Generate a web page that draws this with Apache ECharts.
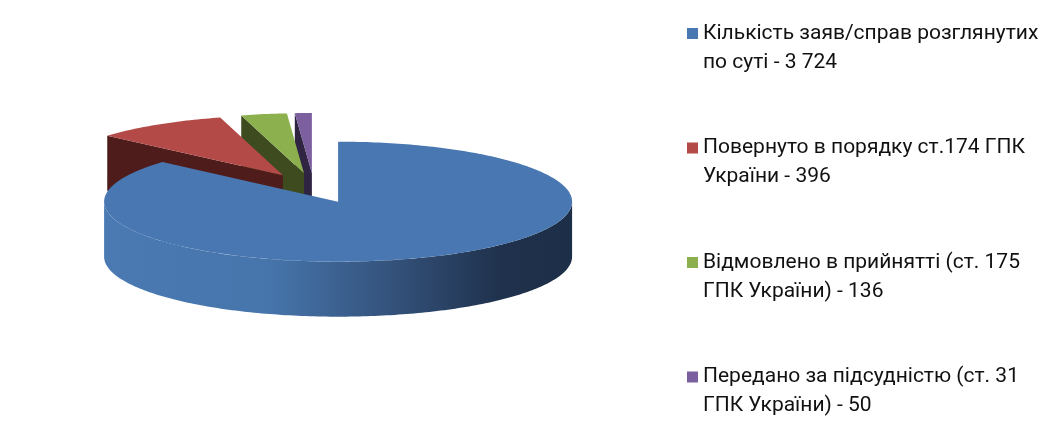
<!DOCTYPE html>
<html>
<head>
<meta charset="utf-8">
<script src="https://cdn.jsdelivr.net/npm/echarts@6/dist/echarts.min.js"></script>
<style>
html,body{margin:0;padding:0;background:#fff;}
#chart{width:1064px;height:434px;}
</style>
</head>
<body>
<div id="chart"></div>
<script>
// ---- data ----
const names = [
  'Кількість заяв/справ розглянутих\nпо суті - 3 724',
  'Повернуто в порядку ст.174 ГПК\nУкраїни - 396',
  'Відмовлено в прийнятті (ст. 175\nГПК України) - 136',
  'Передано за підсудністю (ст. 31\nГПК України) - 50'
];
const values = [3724, 396, 136, 50];

// ---- styles ----
const topColors = ['#4877b1', '#b34a47', '#8db04f', '#7b5f9f'];
const faceColors = ['#2c4a70', '#4e1c1b', '#3d4b1f', '#2f2442'];
const wallStops = [
  [['0', '#4b7ab3'], ['0.35', '#4675ac'], ['0.6', '#35547e'], ['0.85', '#1f314c'], ['1', '#1d2e48']],
  [['0', '#6b2b2a'], ['1', '#3a1515']],
  [['0', '#56692b'], ['1', '#2d3817']],
  [['0', '#4a3a63'], ['1', '#241b33']]
];

const geo = { cx: 314, cy: 188, rx: 234, ry: 60, depth: 55, explode: 0.25 };
const total = values.reduce((a, b) => a + b, 0);

function sliceAngles(k) {
  let cum = 0;
  for (let i = 0; i < k; i++) cum += values[i];
  const a0 = 90 - cum / total * 360;
  const a1 = 90 - (cum + values[k]) / total * 360;
  return [a0, a1];
}

function renderSlice(k) {
  return function (params, api) {
    const [a0, a1] = sliceAngles(k);
    const mid = (a0 + a1) / 2 * Math.PI / 180;
    const Cx = geo.cx + geo.explode * geo.rx * Math.cos(mid);
    const Cy = geo.cy - geo.explode * geo.ry * Math.sin(mid);
    const P = (t, dz) => [Cx + geo.rx * Math.cos(t * Math.PI / 180), Cy - geo.ry * Math.sin(t * Math.PI / 180) + (dz || 0)];
    const arc = (from, to, dz) => {
      const pts = [];
      const n = Math.max(2, Math.ceil(Math.abs(to - from) / 1));
      for (let i = 0; i <= n; i++) pts.push(P(from + (to - from) * i / n, dz));
      return pts;
    };
    const children = [];
    const d = geo.depth;
    // radial faces
    if (Math.cos(a0 * Math.PI / 180) < -0.001) {
      const p = P(a0), pb = P(a0, d);
      children.push({ type: 'polygon', shape: { points: [[Cx, Cy], p, pb, [Cx, Cy + d]] }, style: { fill: faceColors[k] } });
    }
    if (Math.cos(a1 * Math.PI / 180) > 0.001) {
      const p = P(a1), pb = P(a1, d);
      children.push({ type: 'polygon', shape: { points: [[Cx, Cy], p, pb, [Cx, Cy + d]] }, style: { fill: faceColors[k] } });
    }
    // outer wall (front half only)
    for (let n = -2; n <= 1; n++) {
      const lo = Math.max(a1, 180 + 360 * n);
      const hi = Math.min(a0, 360 + 360 * n);
      if (lo < hi) {
        const pts = arc(lo, hi, 0).concat(arc(hi, lo, d));
        children.push({
          type: 'polygon', shape: { points: pts },
          style: { fill: new echarts.graphic.LinearGradient(0, 0, 1, 0, wallStops[k].map(s => ({ offset: +s[0], color: s[1] }))) }
        });
      }
    }
    // top face
    const topPts = [[Cx, Cy]].concat(arc(a0, a1, 0));
    children.push({ type: 'polygon', shape: { points: topPts }, style: { fill: topColors[k] } });
    return { type: 'group', children: children };
  };
}

// draw order: slices further back first
const depthKey = values.map((v, k) => {
  const [a0, a1] = sliceAngles(k);
  return Math.sin((a0 + a1) / 2 * Math.PI / 180);
});
const order = depthKey.map((s, k) => k).sort((a, b) => depthKey[b] - depthKey[a]);
const zOf = [];
order.forEach((k, r) => { zOf[k] = 2 + r; });

const chart = echarts.init(document.getElementById('chart'));
chart.setOption({
  animation: false,
  legend: {
    orient: 'vertical',
    left: 682,
    top: 14,
    itemWidth: 11,
    itemHeight: 40,
    itemGap: 56.5,
    icon: 'path://M0,0H10V10H0Z M0,36.4H0.01V36.41H0Z',
    symbolKeepAspect: false,
    selectedMode: false,
    itemStyle: { borderWidth: 0 },
    textStyle: { fontFamily: 'Roboto', fontSize: 21, lineHeight: 29, color: '#111' },
    data: names
  },
  series: names.map((name, k) => ({
    type: 'custom',
    name: name,
    coordinateSystem: 'none',
    z: zOf[k],
    silent: true,
    itemStyle: { color: topColors[k] },
    data: [values[k]],
    renderItem: renderSlice(k)
  }))
});
</script>
</body>
</html>
